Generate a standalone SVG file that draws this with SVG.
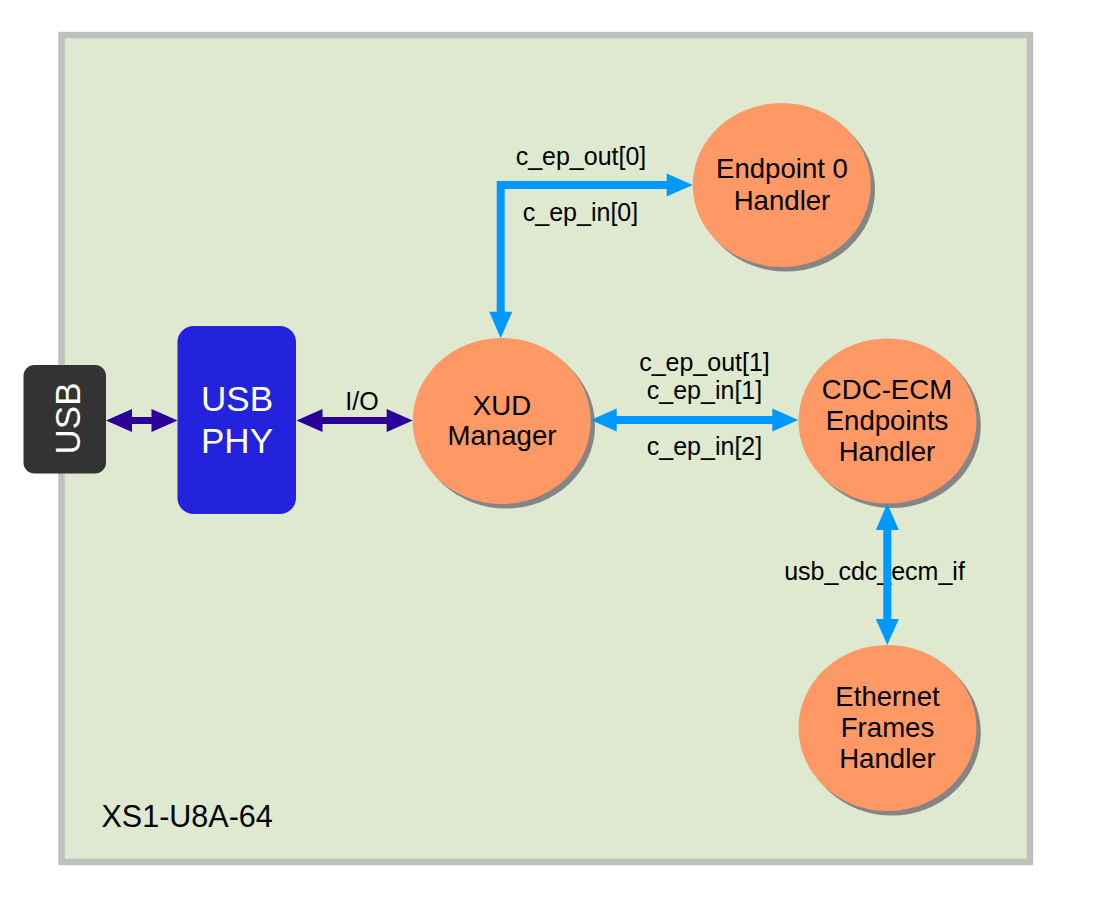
<svg xmlns="http://www.w3.org/2000/svg" width="1103" height="906" viewBox="0 0 1103 906">
<style>
text{font-family:"Liberation Sans",Arial,sans-serif}
.node{fill:#fe9966}
.shadow{fill:#858585}
.ntext{font-size:27.6px;fill:#000;text-anchor:middle}
.lbl{font-size:25px;fill:#000;text-anchor:middle}
.blue{stroke:#0099ff;stroke-width:8;fill:none}
.bhead{fill:#0099ff}
.purple{stroke:#2a0099;stroke-width:7;fill:none}
.phead{fill:#2a0099}
</style>
<rect width="1103" height="906" fill="#ffffff"/>
<g id="chip">
<rect x="64" y="38" width="969" height="827" fill="#9a9a9a"/>
<rect x="61.5" y="35" width="968.5" height="827" fill="#dee9cf" stroke="#c0c0c0" stroke-width="6.5"/>
<text x="101.5" y="827" style="font-size:30.5px">XS1-U8A-64</text>
</g>
<g id="usb">
<rect x="23.5" y="365" width="82.5" height="108.5" rx="11" fill="#333333"/>
<text transform="translate(79.5,418.5) rotate(-90)" text-anchor="middle" style="font-size:35px" fill="#ffffff">USB</text>
</g>
<g id="usb-phy">
<rect x="177.5" y="326" width="118.5" height="188" rx="16" fill="#2323dd"/>
<text x="237" y="411" text-anchor="middle" style="font-size:35px" fill="#ffffff">USB</text>
<text x="237" y="452.5" text-anchor="middle" style="font-size:35px" fill="#ffffff">PHY</text>
</g>
<g id="endpoint0">
<ellipse class="shadow" cx="786" cy="189.5" rx="89" ry="82"/>
<ellipse class="node" cx="781.7" cy="185" rx="89" ry="82"/>
<text class="ntext" x="782" y="178">Endpoint 0</text>
<text class="ntext" x="782" y="210">Handler</text>
</g>
<g id="xud">
<ellipse class="shadow" cx="506" cy="425.5" rx="89" ry="83"/>
<ellipse class="node" cx="501.7" cy="421" rx="89" ry="83"/>
<text class="ntext" x="502" y="415">XUD</text>
<text class="ntext" x="502" y="445">Manager</text>
</g>
<g id="cdc-ecm">
<ellipse class="shadow" cx="891.8" cy="425.5" rx="89" ry="82.5"/>
<ellipse class="node" cx="887.5" cy="421" rx="89" ry="82.5"/>
<text class="ntext" x="887" y="398.5">CDC-ECM</text>
<text class="ntext" x="887" y="429.5">Endpoints</text>
<text class="ntext" x="887" y="460.5">Handler</text>
</g>
<g id="ethernet">
<ellipse class="shadow" cx="891.8" cy="732.5" rx="89" ry="83"/>
<ellipse class="node" cx="887.5" cy="728" rx="89" ry="83"/>
<text class="ntext" x="887.5" y="706">Ethernet</text>
<text class="ntext" x="887.5" y="737">Frames</text>
<text class="ntext" x="887.5" y="768">Handler</text>
</g>
<g id="connectors">
<text class="lbl" x="362" y="410">I/O</text>
<text class="lbl" x="581" y="165">c_ep_out[0]</text>
<text class="lbl" x="580.5" y="221">c_ep_in[0]</text>
<text class="lbl" x="704.5" y="371">c_ep_out[1]</text>
<text class="lbl" x="704.5" y="398.5">c_ep_in[1]</text>
<text class="lbl" x="704.5" y="455">c_ep_in[2]</text>
<text class="lbl" x="874.5" y="579.5">usb_cdc_ecm_if</text>
<!-- USB to PHY -->
<line class="purple" x1="130" y1="420.5" x2="153" y2="420.5"/>
<polygon class="phead" points="106,420.5 132,409 132,432"/>
<polygon class="phead" points="177.5,420.5 151.5,409 151.5,432"/>
<!-- PHY to XUD -->
<line class="purple" x1="321" y1="420.5" x2="388" y2="420.5" stroke-width="8"/>
<polygon class="phead" points="296.5,420.5 322.5,409 322.5,432"/>
<polygon class="phead" points="412.7,420.5 386.7,409 386.7,432"/>
<!-- XUD to Endpoint 0 -->
<polyline class="blue" points="668,185 500.7,185 500.7,313"/>
<polygon class="bhead" points="692.7,185 666.7,173.5 666.7,196.5"/>
<polygon class="bhead" points="500.7,338.3 489.2,311.7 512.2,311.7"/>
<!-- XUD to CDC-ECM -->
<line class="blue" x1="615" y1="420" x2="774" y2="420"/>
<polygon class="bhead" points="590.7,420 616.7,408.5 616.7,431.5"/>
<polygon class="bhead" points="798.3,420 772.3,408.5 772.3,431.5"/>
<!-- CDC-ECM to Ethernet -->
<line class="blue" x1="887.3" y1="528" x2="887.3" y2="622"/>
<polygon class="bhead" points="887.3,503.5 875.8,530 898.8,530"/>
<polygon class="bhead" points="887.3,645 875.8,619 898.8,619"/>
</g>
</svg>
